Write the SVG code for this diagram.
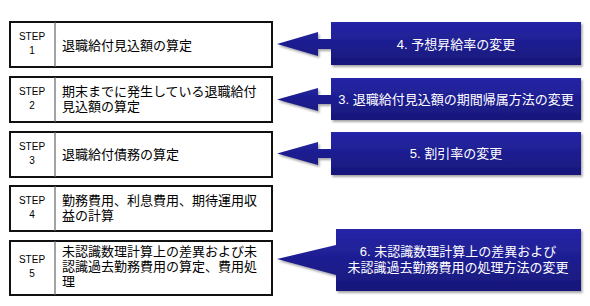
<svg xmlns="http://www.w3.org/2000/svg" width="590" height="306" viewBox="0 0 590 306">
<defs>
<linearGradient id="blue" x1="0" y1="0" x2="0" y2="1">
<stop offset="0" stop-color="#2525a8"/>
<stop offset="1" stop-color="#17177a"/>
</linearGradient>
<filter id="sh" x="-10%" y="-20%" width="120%" height="150%">
<feDropShadow dx="1.5" dy="2" stdDeviation="1.2" flood-color="#000" flood-opacity="0.35"/>
</filter>
<style>
.box{fill:#fff;stroke:#111;stroke-width:2}
.div{stroke:#666;stroke-width:1.2}
.step{font-family:"Liberation Sans",Arial,sans-serif;font-size:10px;fill:#000;text-anchor:middle}
.t{font-family:"Liberation Sans","Noto Sans CJK JP",sans-serif;font-size:13px;fill:#000}
.call{fill:url(#blue);filter:url(#sh)}
.ct{font-family:"Liberation Sans","Noto Sans CJK JP",sans-serif;font-size:13px;fill:#fff;text-anchor:middle}
</style>
</defs>
<g id="step1">
<rect class="box" x="10" y="22" width="262" height="45"/>
<line class="div" x1="55" y1="22" x2="55" y2="67"/>
<text class="step" x="32" y="40">STEP</text>
<text class="step" x="32" y="54">1</text>
<text class="t" x="62" y="50">退職給付見込額の算定</text>
</g>
<g id="step2">
<rect class="box" x="10" y="77" width="262" height="45"/>
<line class="div" x1="55" y1="77" x2="55" y2="122"/>
<text class="step" x="32" y="95">STEP</text>
<text class="step" x="32" y="109">2</text>
<text class="t" x="62" y="96">期末までに発生している退職給付</text>
<text class="t" x="62" y="111">見込額の算定</text>
</g>
<g id="step3">
<rect class="box" x="10" y="132" width="262" height="45"/>
<line class="div" x1="55" y1="132" x2="55" y2="177"/>
<text class="step" x="32" y="150">STEP</text>
<text class="step" x="32" y="164">3</text>
<text class="t" x="62" y="159">退職給付債務の算定</text>
</g>
<g id="step4">
<rect class="box" x="10" y="186" width="262" height="45"/>
<line class="div" x1="55" y1="186" x2="55" y2="231"/>
<text class="step" x="32" y="204">STEP</text>
<text class="step" x="32" y="218">4</text>
<text class="t" x="62" y="205">勤務費用、利息費用、期待運用収</text>
<text class="t" x="62" y="220">益の計算</text>
</g>
<g id="step5">
<rect class="box" x="10" y="241" width="262" height="54"/>
<line class="div" x1="55" y1="241" x2="55" y2="295"/>
<text class="step" x="32" y="263">STEP</text>
<text class="step" x="32" y="277">5</text>
<text class="t" x="62" y="256">未認識数理計算上の差異および未</text>
<text class="t" x="62" y="271">認識過去勤務費用の算定、費用処</text>
<text class="t" x="62" y="286">理</text>
</g>
<g id="callout4">
<path class="call" d="M331,22 H581 V65 H331 V49 H318 V56 L277,44 L318,32 V39 H331 Z"/>
<text class="ct" x="456" y="48.5">4. 予想昇給率の変更</text>
</g>
<g id="callout3">
<path class="call" d="M331,78 H581 V120 H331 V104 H318 V111 L277,99.5 L318,88 V95 H331 Z"/>
<text class="ct" x="456" y="104">3. 退職給付見込額の期間帰属方法の変更</text>
</g>
<g id="callout5">
<path class="call" d="M331,132 H581 V175 H331 V158 H318 V165 L277,153.5 L318,142 V149 H331 Z"/>
<text class="ct" x="456" y="158">5. 割引率の変更</text>
</g>
<g id="callout6">
<path class="call" d="M336,229 H581 V291 H336 V275 L277,259 L336,245 Z"/>
<text class="ct" x="458" y="256">6. 未認識数理計算上の差異および</text>
<text class="ct" x="458" y="272">未認識過去勤務費用の処理方法の変更</text>
</g>
<g id="connectors"></g>
</svg>
